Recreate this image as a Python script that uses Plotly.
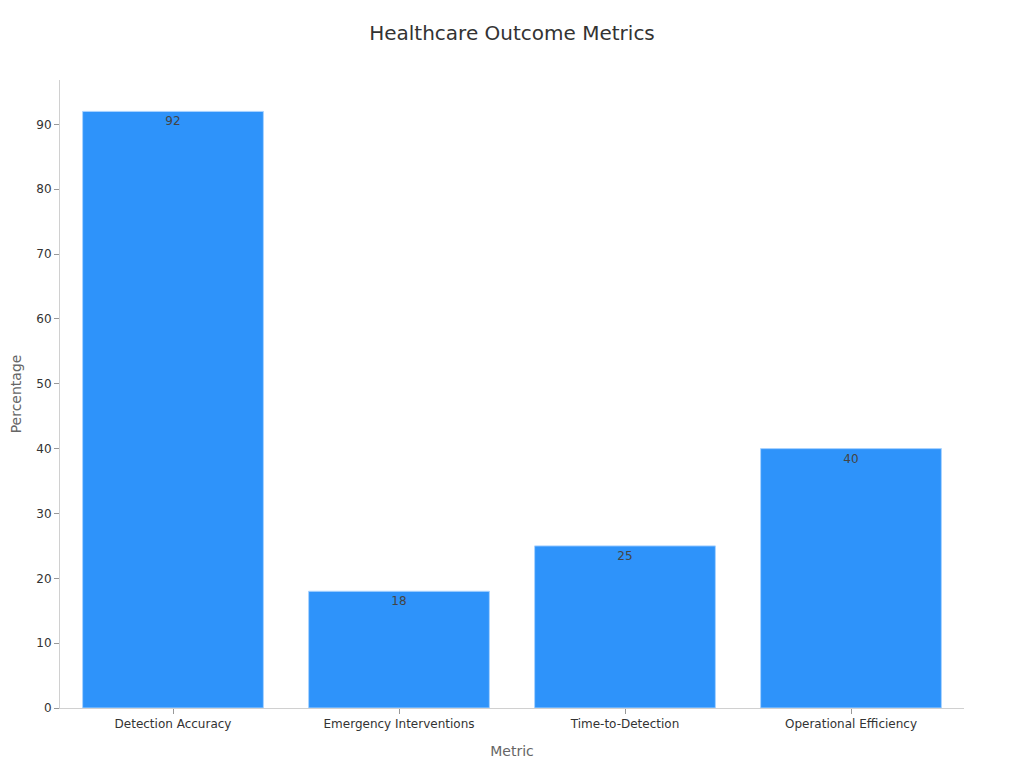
import plotly.graph_objects as go

metrics = ["Detection Accuracy", "Emergency Interventions", "Time-to-Detection", "Operational Efficiency"]
percentages = [92, 18, 25, 40]

fig = go.Figure(
    go.Bar(
        x=metrics,
        y=percentages,
        text=percentages,
        textposition="inside",
        insidetextanchor="end",
        textfont=dict(color="#444444", size=12),
        marker=dict(color="#2E93FA", line=dict(color="#A9D3FF", width=1)),
    )
)

fig.update_layout(
    title=dict(text="Healthcare Outcome Metrics", x=0.5, xanchor="center", y=0.976,
               font=dict(size=20, color="#333333")),
    font=dict(family="DejaVu Sans", size=12, color="#333333"),
    plot_bgcolor="white",
    paper_bgcolor="white",
    margin=dict(l=52, r=52, t=72, b=52),
    bargap=0.2,
    showlegend=False,
    xaxis=dict(
        title=dict(text="Metric", font=dict(size=14, color="#666666")),
        showline=True, linecolor="#d0d0d0", linewidth=1,
        ticks="outside", tickcolor="#999999", ticklen=5,
        showgrid=False, automargin=False,
    ),
    yaxis=dict(
        title=dict(text="Percentage", font=dict(size=14, color="#666666"), standoff=20),
        showline=True, linecolor="#d0d0d0", linewidth=1,
        ticks="outside", tickcolor="#999999", ticklen=5,
        showgrid=False, zeroline=False, dtick=10, automargin=False,
    ),
)

fig.write_html("out.html")
